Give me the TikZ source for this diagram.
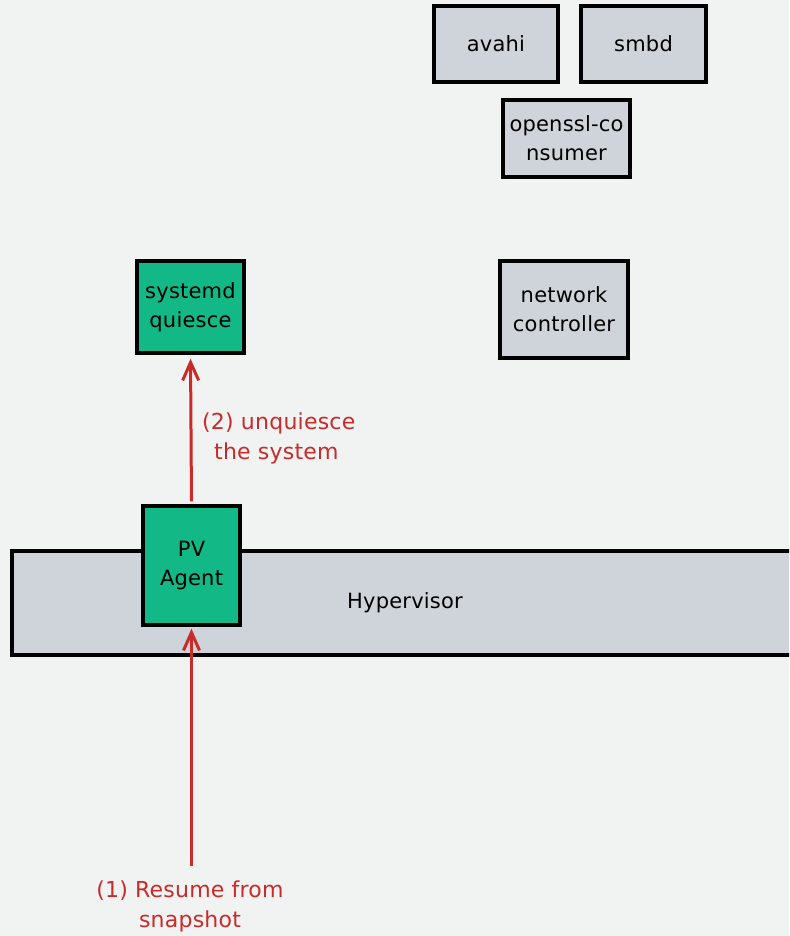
\documentclass[tikz,border=0pt]{standalone}
\usepackage{fontspec}
\setmainfont{DejaVu Sans}[LetterSpace=1]
\usetikzlibrary{arrows.meta}
\definecolor{bgpaper}{HTML}{F1F3F2}
\definecolor{boxgrey}{HTML}{CED4DA}
\definecolor{boxgreen}{HTML}{12B886}
\definecolor{flowred}{HTML}{C92A2A}
\tikzset{
  svcbox/.style={draw=black, line width=3.4pt, fill=boxgrey, inner sep=0pt,
    align=center, font=\fontsize{21}{29}\selectfont},
  agentbox/.style={svcbox, fill=boxgreen},
  flow/.style={draw=flowred, line width=3pt,
    -{Straight Barb[length=18pt,width=16pt,line width=3pt]}},
  flowlabel/.style={text=flowred, inner sep=0pt, font=\fontsize{22}{30}\selectfont}
}
\begin{document}
\begin{tikzpicture}[x=1pt,y=-1pt]
  \useasboundingbox (0,0) rectangle (789,936);
  \clip (0,0) rectangle (789,936);
  \fill[bgpaper] (0,0) rectangle (789,936);

  % services in the guest
  \node[svcbox, minimum width=124pt, minimum height=76pt] (avahi) at (496,44) {avahi};
  \node[svcbox, minimum width=125pt, minimum height=76pt] (smbd) at (643.5,44) {smbd};
  \node[svcbox, minimum width=127pt, minimum height=77pt] (openssl) at (566.5,138.5) {openssl-co\\nsumer};
  \node[svcbox, minimum width=128pt, minimum height=97pt] (netctl) at (564,309.5) {network\\controller};
  \node[agentbox, minimum width=107pt, minimum height=92pt] (quiesce) at (190.5,307) {systemd\\quiesce};

  % hypervisor layer with the agent sitting on it
  \node[svcbox, minimum width=786pt, minimum height=104pt] (hyper) at (405,603) {Hypervisor};
  \node[agentbox, minimum width=97pt, minimum height=119pt] (agent) at (191.5,565.5) {PV\\Agent};

  % control flow
  \coordinate (resume) at (191.5,866);
  \draw[flow, shorten >=2pt] (resume) -- (agent.south);
  \draw[flow, shorten <=3pt, shorten >=4pt] (agent.north) -- (quiesce.south);

  \node[flowlabel, anchor=west, align=left] (lbltwo) at (202,438.5) {(2) unquiesce\\\hspace*{12pt}the system};
  \node[flowlabel, align=center] (lblone) at (190,906) {(1) Resume from\\snapshot};
\end{tikzpicture}
\end{document}
